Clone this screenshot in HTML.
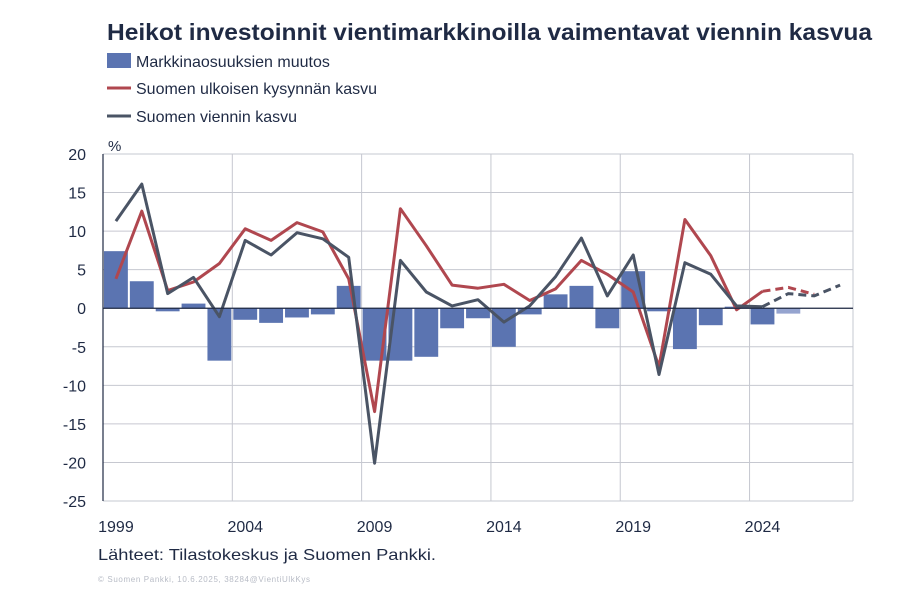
<!DOCTYPE html>
<html><head><meta charset="utf-8"><style>
body{margin:0;background:#fff;width:922px;height:602px;overflow:hidden;font-family:"Liberation Sans",sans-serif}
</style></head><body>
<svg width="922" height="602" xmlns="http://www.w3.org/2000/svg" font-family="Liberation Sans, sans-serif">
<text x="107" y="40" font-size="23" font-weight="bold" fill="#1f2a44" textLength="765" lengthAdjust="spacingAndGlyphs">Heikot investoinnit vientimarkkinoilla vaimentavat viennin kasvua</text>
<g font-size="16" fill="#1f2a44">
<rect x="107" y="53" width="24" height="15" fill="#5b74b1"/>
<text x="136" y="67">Markkinaosuuksien muutos</text>
<line x1="107" y1="88" x2="131" y2="88" stroke="#b0474f" stroke-width="3"/>
<text x="136" y="94">Suomen ulkoisen kysynnän kasvu</text>
<line x1="107" y1="116" x2="131" y2="116" stroke="#4a5465" stroke-width="3"/>
<text x="136" y="122">Suomen viennin kasvu</text>
</g>
<text x="108" y="151" font-size="15" fill="#1f2a44">%</text>
<g id="grid"></g><g id="bars"></g><g id="lines"></g><g id="axes"></g>
<text x="98" y="560" font-size="16" fill="#1f2a44" textLength="338" lengthAdjust="spacingAndGlyphs">Lähteet: Tilastokeskus ja Suomen Pankki.</text>
<text x="98" y="582" font-size="8" fill="#b8bcc6" textLength="212">© Suomen Pankki, 10.6.2025, 38284@VientiUlkKys</text>
</svg>
<script>
const years=[1999,2000,2001,2002,2003,2004,2005,2006,2007,2008,2009,2010,2011,2012,2013,2014,2015,2016,2017,2018,2019,2020,2021,2022,2023,2024,2025,2026,2027];
const marketShare=[7.4,3.5,-0.4,0.6,-6.8,-1.5,-1.9,-1.2,-0.8,2.9,-6.8,-6.8,-6.3,-2.6,-1.3,-5.0,-0.8,1.8,2.9,-2.6,4.8,-0.4,-5.3,-2.2,0.2,-2.1,-0.7,null,null];
const demand=[3.8,12.6,2.3,3.4,5.8,10.3,8.8,11.1,9.9,3.8,-13.4,12.9,8.1,3.0,2.6,3.1,1.0,2.5,6.2,4.4,2.1,-7.6,11.5,6.8,-0.2,2.2,2.7,1.8,null];
const exportsG=[11.3,16.1,1.9,4.0,-1.1,8.8,6.9,9.8,9.0,6.6,-20.1,6.2,2.1,0.3,1.1,-1.8,0.3,4.1,9.1,1.6,6.9,-8.6,5.9,4.4,0.3,0.2,1.9,1.6,3.0];
const yTicks=[20,15,10,5,0,-5,-10,-15,-20,-25];
const xLabels=[1999,2004,2009,2014,2019,2024];
const forecastStart=2024;
const L=103,R=853,T=154,B=501,ymin=-25,ymax=20;
const bw=(R-L)/years.length;
const X=i=>L+bw*(i+0.5);
const Y=v=>T+(ymax-v)/(ymax-ymin)*(B-T);
const NS='http://www.w3.org/2000/svg';
function mk(t,a,p){const e=document.createElementNS(NS,t);for(const k in a)e.setAttribute(k,a[k]);p.appendChild(e);return e;}
const grid=document.getElementById('grid'),bars=document.getElementById('bars'),lines=document.getElementById('lines'),axes=document.getElementById('axes');
yTicks.forEach(v=>{const g=mk('line',{x1:L,x2:R,y1:Y(v),y2:Y(v),stroke:'#c6c8d0','stroke-width':1},grid);


const t=mk('text',{x:86,y:Y(v)+6,'font-size':16,fill:'#1f2a44','text-anchor':'end'},axes);t.textContent=v;

});
xLabels.forEach(y=>{const i=years.indexOf(y);const gx=L+bw*i;
if(i>0){const g=mk('line',{x1:gx,x2:gx,y1:T,y2:B,stroke:'#c6c8d0','stroke-width':1},grid);

}
const t=mk('text',{x:X(i),y:532,'font-size':16,fill:'#1f2a44','text-anchor':'middle'},axes);t.textContent=y;

});
const rg=mk('line',{x1:R,x2:R,y1:T,y2:B,stroke:'#c6c8d0'},grid);


marketShare.forEach((v,i)=>{if(v==null)return;const y0=Y(0),y1=Y(v);
const r=mk('rect',{x:X(i)-bw/2+1,width:bw-2,y:Math.min(y0,y1),height:Math.abs(y1-y0),fill:years[i]>forecastStart?'#95a4cf':'#5b74b1'},bars);

});
function drawLine(arr,color,name){let solid=[],dash=[];arr.forEach((v,i)=>{if(v==null)return;const p=X(i).toFixed(1)+','+Y(v).toFixed(1);
if(years[i]<=forecastStart)solid.push(p);if(years[i]>=forecastStart)dash.push(p);});
const a=mk('polyline',{points:solid.join(' '),fill:'none',stroke:color,'stroke-width':3,'stroke-linejoin':'round'},lines);


const b=mk('polyline',{points:dash.join(' '),fill:'none',stroke:color,'stroke-width':3,'stroke-dasharray':'8,5'},lines);

}
drawLine(demand,'#b0474f','demand');
drawLine(exportsG,'#4a5465','exports');
const z=mk('line',{x1:L,x2:R,y1:Y(0),y2:Y(0),stroke:'#1f2a44','stroke-width':1.2},axes);


const ya=mk('line',{x1:L,x2:L,y1:T,y2:B,stroke:'#1f2a44','stroke-width':1.2},axes);


</script>
</body></html>
